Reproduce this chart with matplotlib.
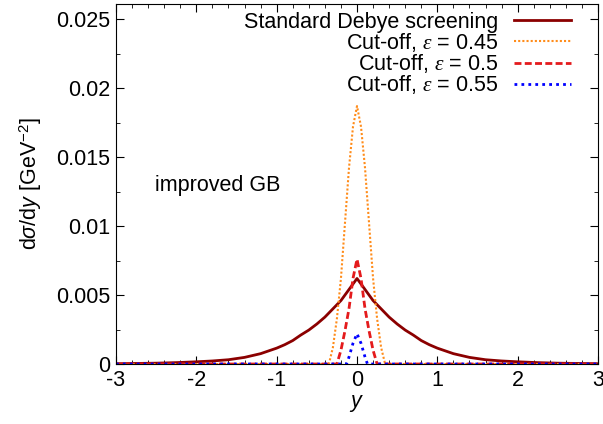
import matplotlib
matplotlib.use("Agg")
import matplotlib.pyplot as plt
from matplotlib.ticker import MultipleLocator, FuncFormatter

plt.rcParams['font.family'] = ['Liberation Sans', 'DejaVu Sans']
plt.rcParams['mathtext.fontset'] = 'custom'
plt.rcParams['mathtext.rm'] = 'Liberation Sans'
plt.rcParams['mathtext.it'] = 'Liberation Serif:italic'
plt.rcParams['mathtext.sf'] = 'Liberation Sans:italic'
plt.rcParams['axes.unicode_minus'] = False

# Standard Debye screening
y_debye = [-3.0, -2.75, -2.5, -2.25, -2.0, -1.8, -1.6, -1.4, -1.2, -1.0, -0.9, -0.8,
           -0.7, -0.6, -0.5, -0.4, -0.3, -0.2, -0.1, 0.0,
           0.1, 0.2, 0.3, 0.4, 0.5, 0.6, 0.7, 0.8, 0.9, 1.0, 1.2, 1.4, 1.6, 1.8,
           2.0, 2.25, 2.5, 2.75, 3.0]
v_debye = [0.00002, 0.00004, 0.00006, 0.0001, 0.00016, 0.00022, 0.00031, 0.00048, 0.00075,
           0.00115, 0.0014, 0.0017, 0.0021, 0.00246, 0.0029, 0.0034, 0.0040, 0.0046, 0.0054,
           0.0062,
           0.0054, 0.0046, 0.0040, 0.0034, 0.0029, 0.00246, 0.0021, 0.0017, 0.0014, 0.00115,
           0.00075, 0.00048, 0.00031, 0.00022, 0.00016, 0.0001, 0.00006, 0.00004, 0.00002]

# Cut-off, eps = 0.45
y_045 = [-3.0, -0.35, -0.3, -0.25, -0.2, -0.15, -0.1, -0.05, 0.0,
         0.05, 0.1, 0.15, 0.2, 0.25, 0.3, 0.35, 3.0]
v_045 = [0, 0, 0.0012, 0.0033, 0.0062, 0.0102, 0.0142, 0.0172, 0.0187,
         0.0172, 0.0142, 0.0102, 0.0062, 0.0033, 0.0012, 0, 0]

# Cut-off, eps = 0.5
y_050 = [-3.0, -0.25, -0.2, -0.15, -0.1, -0.05, 0.0, 0.05, 0.1, 0.15, 0.2, 0.25, 3.0]
v_050 = [0, 0, 0.0010, 0.0024, 0.0040, 0.0062, 0.0076, 0.0062, 0.0040, 0.0024, 0.0010, 0, 0]

# Cut-off, eps = 0.55
y_055 = [-3.0, -0.13, -0.1, -0.05, 0.0, 0.05, 0.1, 0.13, 3.0]
v_055 = [0, 0, 0.0005, 0.0015, 0.0022, 0.0015, 0.0005, 0, 0]

fig = plt.figure(figsize=(6.03, 4.24), dpi=100)
ax = fig.add_axes([0.1924, 0.1415, 0.7993, 0.8491])

ax.plot(y_debye, v_debye, color='#8b0000', lw=2, label='Standard Debye screening')
ax.plot(y_045, v_045, color='#ff8c1a', lw=1.5, ls=(0, (1, 1)), label=r'Cut-off, $\varepsilon$ = 0.45')
ax.plot(y_050, v_050, color='#e41a1c', lw=2, ls=(0, (2.5, 1.2)), label=r'Cut-off, $\varepsilon$ = 0.5')
ax.plot(y_055, v_055, color='#0000ff', lw=2, ls=(0, (1, 1.5)), label=r'Cut-off, $\varepsilon$ = 0.55')

ax.set_xlim(-3, 3)
ax.set_ylim(0, 0.0261)
ax.xaxis.set_major_locator(MultipleLocator(1))
ax.xaxis.set_minor_locator(MultipleLocator(0.2))
ax.yaxis.set_major_locator(MultipleLocator(0.005))
ax.yaxis.set_minor_locator(MultipleLocator(0.0025))
ax.yaxis.set_major_formatter(FuncFormatter(lambda v, p: '%g' % round(v, 4)))
ax.xaxis.set_major_formatter(FuncFormatter(lambda v, p: '%g' % v))
ax.tick_params(which='both', direction='in', top=True, right=True, labelsize=15.5, pad=4)
ax.tick_params(which='major', length=6)
ax.tick_params(which='minor', length=3)

ax.set_xlabel(r'$\mathsf{y}$', fontsize=15.5, labelpad=2)
ax.set_ylabel(r'd$\mathsf{\sigma}$/d$\mathsf{y}$ [GeV$^{\mathrm{-2}}$]', fontsize=15.5, labelpad=9)

ax.text(-2.52, 0.01297, 'improved GB', fontsize=15.5, va='center', ha='left')

ax.legend(loc='upper right', bbox_to_anchor=(0.961, 1.003), frameon=False, markerfirst=False,
          fontsize=15.5, handlelength=2.65, handletextpad=0.7, labelspacing=-0.08,
          borderaxespad=0.0)

fig.savefig('out.png', dpi=100)
